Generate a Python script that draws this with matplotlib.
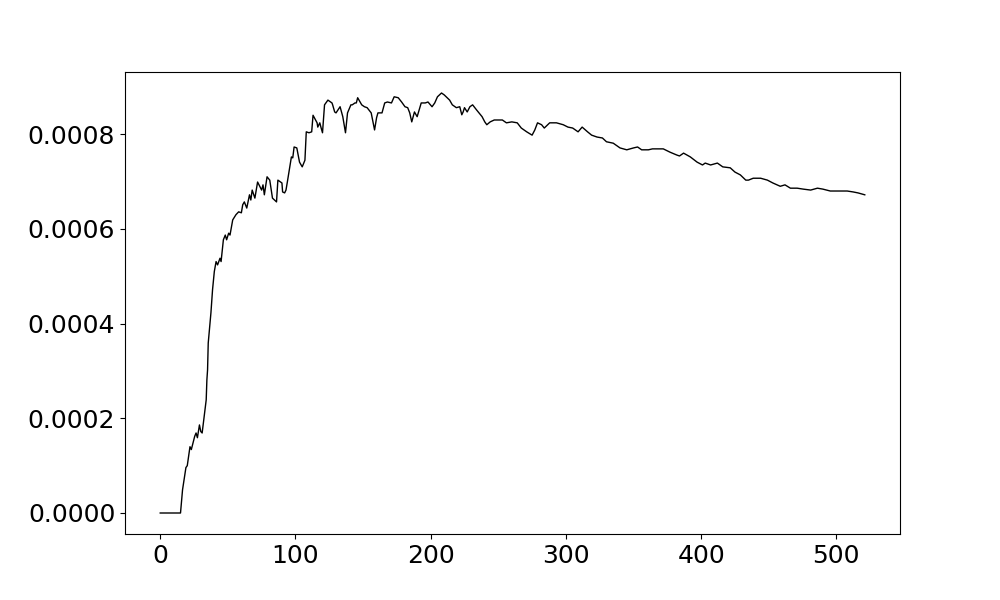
import matplotlib
matplotlib.use("Agg")
import matplotlib.pyplot as plt
import numpy as np

# step index of each read-off point
steps = [0, 15, 16.5, 19, 20, 22, 23, 24.5, 25.5, 26.5, 27.5, 29, 30, 31, 32.5, 34, 34.5, 35, 35.5, 37.5,
         38.7, 40, 41.3, 42.4, 44.2, 45, 46.7, 48.1, 49.1, 50.6, 51.6, 53.6, 56, 58, 60, 61, 62.2,
         64, 66, 67, 68, 70, 72, 75, 76, 77, 79, 81, 83, 86, 87, 90, 90.5,
         92, 93, 94, 97, 98, 99, 101, 103, 105, 107, 108, 110, 112, 113, 116, 116.5, 118, 119, 120, 121.5,
         124, 127, 127.5, 129, 130, 133, 135, 137, 138.5, 141, 142, 144, 145, 146, 149, 151, 153, 156, 158.5, 160,
         161, 164, 166, 168, 171, 173, 176, 178.5, 181, 183, 184.5, 186, 188, 190, 193, 196, 198, 201, 203, 205,
         208, 210, 214, 216, 219, 221.5, 223, 224, 225, 227, 229, 231, 234, 238, 240, 241.5, 244, 247, 250, 253,
         256, 260, 264, 267, 271, 275, 277, 279, 282, 284, 288, 293, 298, 301.5, 305, 309, 312, 316, 319, 323,
         327, 330, 335, 340, 345, 350, 353, 356, 361, 364, 372, 377, 382, 384, 387, 392, 397, 401, 403, 407,
         412, 416, 421.5, 425, 429, 433, 435, 438.5, 444, 449, 453, 458.5, 462, 466, 471, 475.5, 481, 486, 490, 495.5,
         501.5, 508, 512.5, 516, 521]

# value at each step, in units of 1e-4
rate_e4 = [0.0, 0.0, 0.49, 0.96, 1.00, 1.40, 1.34, 1.51, 1.62, 1.69, 1.59, 1.86, 1.72, 1.69, 2.04, 2.39, 2.81, 3.02, 3.59, 4.23,
           4.72, 5.10, 5.31, 5.24, 5.38, 5.31, 5.77, 5.87, 5.77, 5.91, 5.87, 6.19, 6.30, 6.36, 6.34, 6.51, 6.57,
           6.44, 6.72, 6.61, 6.82, 6.65, 6.99, 6.82, 6.93, 6.72, 7.10, 7.03, 6.65, 6.57, 7.03, 6.97, 6.78,
           6.76, 6.82, 6.99, 7.52, 7.50, 7.73, 7.71, 7.41, 7.31, 7.45, 8.05, 8.03, 8.05, 8.40, 8.24, 8.15, 8.24, 8.13, 8.03, 8.62,
           8.72, 8.66, 8.62, 8.47, 8.45, 8.58, 8.37, 8.03, 8.45, 8.62, 8.62, 8.66, 8.66, 8.77, 8.62, 8.58, 8.56, 8.45, 8.09, 8.35,
           8.45, 8.45, 8.66, 8.68, 8.66, 8.79, 8.77, 8.68, 8.58, 8.56, 8.45, 8.26, 8.47, 8.37, 8.66, 8.66, 8.68, 8.58, 8.66, 8.79,
           8.87, 8.83, 8.72, 8.62, 8.56, 8.58, 8.41, 8.47, 8.56, 8.47, 8.58, 8.62, 8.51, 8.37, 8.26, 8.20, 8.26, 8.30, 8.30, 8.30,
           8.24, 8.26, 8.24, 8.13, 8.05, 7.98, 8.09, 8.24, 8.20, 8.13, 8.24, 8.24, 8.20, 8.15, 8.13, 8.05, 8.15, 8.05, 7.98, 7.94,
           7.92, 7.84, 7.81, 7.71, 7.67, 7.71, 7.73, 7.67, 7.67, 7.69, 7.69, 7.62, 7.56, 7.54, 7.60, 7.52, 7.41, 7.35, 7.39, 7.35,
           7.39, 7.31, 7.29, 7.20, 7.14, 7.03, 7.03, 7.07, 7.07, 7.03, 6.97, 6.90, 6.93, 6.86, 6.86, 6.84, 6.82, 6.86, 6.84, 6.80,
           6.80, 6.80, 6.78, 6.76, 6.72]

rate = np.array(rate_e4) * 1e-4

fig = plt.figure(figsize=(10, 6), dpi=100)
ax = fig.add_subplot(111)
ax.plot(steps, rate, color="black", linewidth=1)
ax.tick_params(labelsize=18)

fig.savefig("out.png", dpi=100)
